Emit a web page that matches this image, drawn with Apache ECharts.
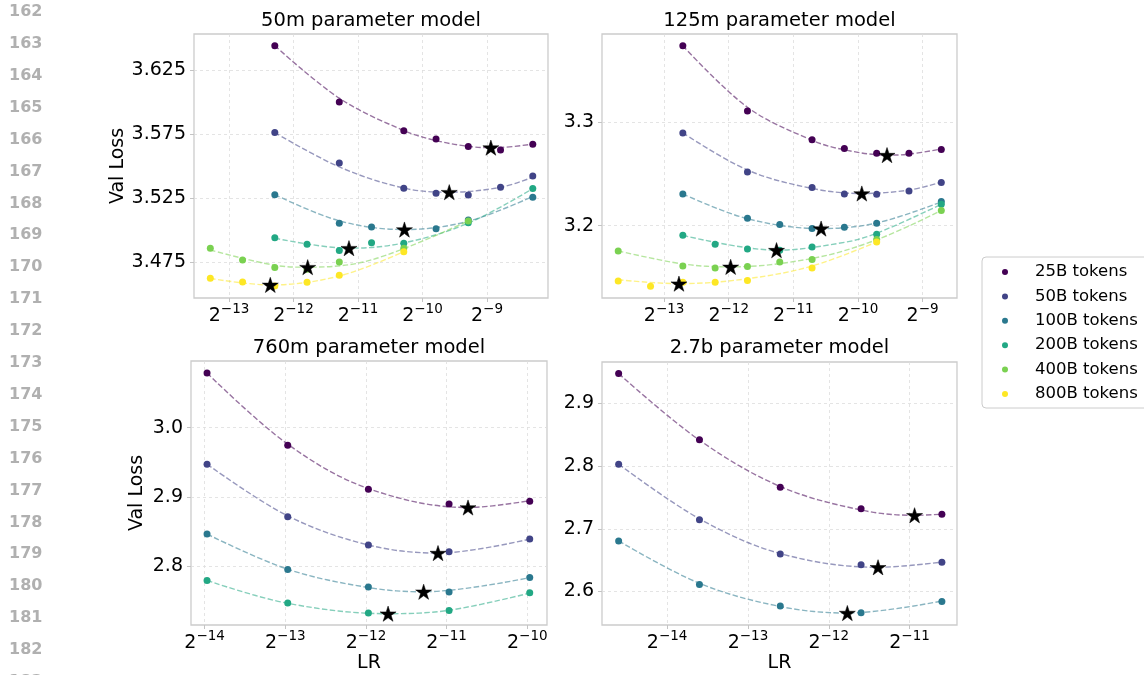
<!DOCTYPE html>
<html>
<head>
<meta charset="utf-8">
<script src="https://cdn.jsdelivr.net/npm/echarts@6/dist/echarts.min.js"></script>
<style>
  html, body { margin: 0; padding: 0; background: #ffffff; }
  #chart { width: 1144px; height: 675px; }
</style>
</head>
<body>
<div id="chart"></div>
<script>
// ---------- data ----------
const tokenNames = ['25B tokens', '50B tokens', '100B tokens', '200B tokens', '400B tokens', '800B tokens'];
const panelTitles = ['50m parameter model', '125m parameter model', '760m parameter model', '2.7b parameter model'];

// x values are log2(learning rate); y values are validation loss

// 50m
const lr50m = [
  [-12.29, -11.29, -10.29, -9.79, -9.29, -8.79, -8.29],
  [-12.29, -11.29, -10.29, -9.79, -9.29, -8.79, -8.29],
  [-12.29, -11.29, -10.79, -9.79, -9.29, -8.29],
  [-12.29, -11.79, -11.29, -10.79, -10.29, -9.29, -8.29],
  [-13.29, -12.79, -12.29, -11.79, -11.29, -10.29, -9.29],
  [-13.29, -12.79, -12.29, -11.79, -11.29, -10.29]
];
const loss50m = [
  [3.6439, 3.6000, 3.5777, 3.5713, 3.5653, 3.5627, 3.5671],
  [3.5762, 3.5526, 3.5329, 3.5290, 3.5277, 3.5337, 3.5424],
  [3.5279, 3.5056, 3.5027, 3.5014, 3.5082, 3.5259],
  [3.4944, 3.4893, 3.4843, 3.4905, 3.4900, 3.5061, 3.5326],
  [3.4861, 3.4770, 3.4711, 3.4698, 3.4755, 3.4861, 3.5074],
  [3.4628, 3.4599, 3.4568, 3.4597, 3.4651, 3.4835]
];
const fit50m = [
  [[-12.29, 3.6439], [-11.29, 3.6030], [-10.29, 3.5778], [-9.79, 3.5700], [-9.29, 3.5655], [-8.94, 3.5645], [-8.79, 3.5646], [-8.29, 3.5673]],
  [[-12.29, 3.5762], [-11.29, 3.5495], [-10.29, 3.5330], [-9.585, 3.5298], [-8.79, 3.5336], [-8.29, 3.5415]],
  [[-12.29, 3.5279], [-11.29, 3.5075], [-10.28, 3.5007], [-9.29, 3.5072], [-8.29, 3.5265]],
  [[-12.29, 3.4940], [-11.14, 3.4862], [-10.29, 3.4903], [-9.29, 3.5057], [-8.29, 3.5326]],
  [[-13.29, 3.4848], [-12.29, 3.4729], [-11.78, 3.4714], [-10.79, 3.4771], [-9.29, 3.5074]],
  [[-13.29, 3.4626], [-12.36, 3.4576], [-11.29, 3.4645], [-10.29, 3.4835]]
];
const best50m = [[-8.94, 3.5645], [-9.585, 3.5298], [-10.28, 3.5007], [-11.14, 3.4862], [-11.78, 3.4714], [-12.36, 3.4576]];

// 125m
const lr125m = [
  [-12.71, -11.71, -10.71, -10.21, -9.71, -9.21, -8.71],
  [-12.71, -11.71, -10.71, -10.21, -9.71, -9.21, -8.71],
  [-12.71, -11.71, -11.21, -10.71, -10.21, -9.71, -8.71],
  [-12.71, -12.21, -11.71, -11.21, -10.71, -9.71, -8.71],
  [-13.71, -12.71, -12.21, -11.71, -11.21, -10.71, -9.71, -8.71],
  [-13.71, -13.21, -12.71, -12.21, -11.71, -10.71, -9.71]
];
const loss125m = [
  [3.3733, 3.3103, 3.2826, 3.2743, 3.2698, 3.2698, 3.2733],
  [3.2893, 3.2517, 3.2366, 3.2305, 3.2302, 3.2334, 3.2415],
  [3.2305, 3.2070, 3.2010, 3.1971, 3.1984, 3.2022, 3.2231],
  [3.1906, 3.1820, 3.1774, 3.1762, 3.1794, 3.1916, 3.2205],
  [3.1755, 3.1610, 3.1591, 3.1605, 3.1649, 3.1672, 3.1865, 3.2145],
  [3.1466, 3.1415, 3.1453, 3.1453, 3.1470, 3.1591, 3.1842]
];
const fit125m = [
  [[-12.71, 3.3733], [-11.71, 3.3140], [-10.71, 3.2822], [-10.21, 3.2730], [-9.55, 3.2679], [-9.21, 3.2688], [-8.71, 3.2738]],
  [[-12.71, 3.2893], [-11.71, 3.2535], [-10.71, 3.2358], [-9.94, 3.2309], [-9.21, 3.2342], [-8.71, 3.2418]],
  [[-12.71, 3.2305], [-11.71, 3.2066], [-10.57, 3.1971], [-9.71, 3.2025], [-8.71, 3.2228]],
  [[-12.71, 3.1906], [-11.26, 3.1763], [-10.21, 3.1838], [-9.71, 3.1926], [-8.71, 3.2205]],
  [[-13.71, 3.1756], [-12.71, 3.1630], [-11.97, 3.1602], [-10.71, 3.1683], [-9.71, 3.1863], [-8.71, 3.2145]],
  [[-13.71, 3.1478], [-12.77, 3.1440], [-11.71, 3.1488], [-10.71, 3.1610], [-9.71, 3.1842]]
];
const best125m = [[-9.55, 3.2679], [-9.94, 3.2309], [-10.57, 3.1971], [-11.26, 3.1763], [-11.97, 3.1602], [-12.77, 3.1440]];

// 760m
const lr760m = [
  [-13.97, -12.97, -11.97, -10.97, -9.97],
  [-13.97, -12.97, -11.97, -10.97, -9.97],
  [-13.97, -12.97, -11.97, -10.97, -9.97],
  [-13.97, -12.97, -11.97, -10.97, -9.97]
];
const loss760m = [
  [3.0789, 2.9746, 2.9111, 2.8895, 2.8938],
  [2.9472, 2.8711, 2.8303, 2.8206, 2.8390],
  [2.8462, 2.7951, 2.7697, 2.7625, 2.7835],
  [2.7792, 2.7466, 2.7322, 2.7359, 2.7615]
];
const fit760m = [
  [[-13.97, 3.0789], [-12.97, 2.9760], [-11.97, 2.9120], [-10.735, 2.8846], [-9.97, 2.8945]],
  [[-13.97, 2.9472], [-12.97, 2.8725], [-11.97, 2.8305], [-11.107, 2.8188], [-9.97, 2.8390]],
  [[-13.97, 2.8462], [-12.97, 2.7955], [-11.97, 2.7690], [-11.285, 2.7629], [-9.97, 2.7833]],
  [[-13.97, 2.7792], [-12.97, 2.7462], [-11.726, 2.7312], [-10.97, 2.7362], [-9.97, 2.7610]]
];
const best760m = [[-10.735, 2.8846], [-11.107, 2.8188], [-11.285, 2.7629], [-11.726, 2.7312]];

// 2.7b
const lr2p7b = [
  [-14.6, -13.6, -12.6, -11.6, -10.6],
  [-14.6, -13.6, -12.6, -11.6, -10.6],
  [-14.6, -13.6, -12.6, -11.6, -10.6]
];
const loss2p7b = [
  [2.9478, 2.8420, 2.7662, 2.7322, 2.7232],
  [2.8029, 2.7146, 2.6600, 2.6425, 2.6468],
  [2.6807, 2.6111, 2.5768, 2.5661, 2.5841]
];
const fit2p7b = [
  [[-14.6, 2.9478], [-13.6, 2.8415], [-12.6, 2.7675], [-11.6, 2.7300], [-10.938, 2.7216], [-10.6, 2.7233]],
  [[-14.6, 2.8032], [-13.6, 2.7160], [-12.6, 2.6605], [-11.39, 2.6386], [-10.6, 2.6470]],
  [[-14.6, 2.6807], [-13.6, 2.6130], [-12.6, 2.5760], [-11.77, 2.5656], [-10.6, 2.5848]]
];
const best2p7b = [[-10.938, 2.7216], [-11.39, 2.6386], [-11.77, 2.5656]];

// axis ticks (x ticks are powers of two, given by exponent)
const xTicks = [[-13, -12, -11, -10, -9], [-13, -12, -11, -10, -9], [-14, -13, -12, -11, -10], [-14, -13, -12, -11]];
const yTicks = [[3.475, 3.525, 3.575, 3.625], [3.2, 3.3], [2.8, 2.9, 3.0], [2.6, 2.7, 2.8, 2.9]];

const lineNumbers = [162, 163, 164, 165, 166, 167, 168, 169, 170, 171, 172, 173, 174, 175, 176, 177, 178, 179, 180, 181, 182, 183];

// ---------- styling / layout ----------
const palette = ['#440154', '#414487', '#2a788e', '#22a884', '#7ad151', '#fde725'];
const FONT = 'DejaVu Sans';

const panels = [
  { lr: lr50m, loss: loss50m, fit: fit50m, best: best50m,
    grid: { left: 194, top: 34, width: 354, height: 264 }, x: [-13.543, -8.054], y: [3.4474, 3.653], dec: 3,
    yName: 'Val Loss', yGap: 62, xName: '', titleX: 371, titleY: 21 },
  { lr: lr125m, loss: loss125m, fit: fit125m, best: best125m,
    grid: { left: 602, top: 34, width: 355, height: 264 }, x: [-13.961, -8.467], y: [3.1302, 3.3846], dec: 1,
    yName: '', yGap: 0, xName: '', titleX: 779.5, titleY: 21 },
  { lr: lr760m, loss: loss760m, fit: fit760m, best: best760m,
    grid: { left: 191, top: 361, width: 356, height: 264 }, x: [-14.169, -9.756], y: [2.7149, 3.0962], dec: 1,
    yName: 'Val Loss', yGap: 44, xName: 'LR', titleX: 369, titleY: 348.3 },
  { lr: lr2p7b, loss: loss2p7b, fit: fit2p7b, best: best2p7b,
    grid: { left: 602, top: 362, width: 355, height: 263 }, x: [-14.806, -10.413], y: [2.5465, 2.9662], dec: 1,
    yName: '', yGap: 0, xName: 'LR', titleX: 779.5, titleY: 348.3 }
];

// five-pointed star marker
function starPath() {
  let d = '';
  for (let i = 0; i < 10; i++) {
    const r = i % 2 ? 0.382 : 1;
    const a = -Math.PI / 2 + i * Math.PI / 5;
    d += (i ? 'L' : 'M') + (r * Math.cos(a)).toFixed(4) + ' ' + (r * Math.sin(a)).toFixed(4) + ' ';
  }
  return 'path://' + d + 'Z';
}
const STAR = starPath();

const tickColor = '#c4c4c4';
const gridLine = { show: true, lineStyle: { color: '#dddddd', width: 0.8, type: [3, 3] } };

const grids = [], xAxes = [], yAxes = [];
const dotSeries = [], fitSeries = [], starSeries = [];

panels.forEach((p, i) => {
  grids.push(Object.assign({ show: true, borderColor: '#cccccc', borderWidth: 1.3, backgroundColor: 'transparent' }, p.grid));

  xAxes.push({
    type: 'value', gridIndex: i, min: p.x[0], max: p.x[1],
    axisLine: { show: false },
    axisTick: { show: true, length: 4, lineStyle: { color: tickColor, width: 1 }, customValues: xTicks[i] },
    axisLabel: {
      customValues: xTicks[i], margin: 4,
      formatter: v => '{b|2}{s|\u2212' + Math.abs(Math.round(v)) + '}',
      rich: {
        b: { fontSize: 19, fontFamily: FONT, color: '#000', lineHeight: 24, verticalAlign: 'bottom' },
        s: { fontSize: 13.5, fontFamily: FONT, color: '#000', lineHeight: 14, verticalAlign: 'top' }
      }
    },
    splitLine: gridLine,
    name: p.xName, nameLocation: 'middle', nameGap: 29,
    nameTextStyle: { fontSize: 19, fontFamily: FONT, color: '#000' }
  });

  yAxes.push({
    type: 'value', gridIndex: i, min: p.y[0], max: p.y[1],
    axisLine: { show: false },
    axisTick: { show: true, length: 4, lineStyle: { color: tickColor, width: 1 }, customValues: yTicks[i] },
    axisLabel: {
      customValues: yTicks[i], margin: 8,
      formatter: v => v.toFixed(p.dec),
      fontSize: 19, fontFamily: FONT, color: '#000'
    },
    splitLine: gridLine,
    name: p.yName, nameLocation: 'middle', nameGap: p.yGap,
    nameTextStyle: { fontSize: 19, fontFamily: FONT, color: '#000' }
  });

  p.lr.forEach((xs, t) => {
    dotSeries.push({
      type: 'scatter', name: tokenNames[t], xAxisIndex: i, yAxisIndex: i,
      data: xs.map((x, k) => [x, p.loss[t][k]]),
      symbol: 'circle', symbolSize: 7,
      itemStyle: { color: palette[t], opacity: 1 },
      z: 3, silent: true
    });
    fitSeries.push({
      type: 'line', name: tokenNames[t] + ' fit', xAxisIndex: i, yAxisIndex: i,
      data: p.fit[t], smooth: 0.35, showSymbol: false,
      lineStyle: { color: palette[t], width: 1.4, type: [5.5, 2.4], opacity: 0.55 },
      z: 2, silent: true
    });
  });

  starSeries.push({
    type: 'scatter', name: 'best lr', xAxisIndex: i, yAxisIndex: i,
    data: p.best, symbol: STAR, symbolSize: 16, symbolKeepAspect: true,
    itemStyle: { color: '#000000', borderColor: '#000000', borderWidth: 0.5, opacity: 1 },
    z: 5, silent: true
  });
});

const graphics = [];
panels.forEach((p, i) => {
  graphics.push({
    type: 'text', x: p.titleX, y: p.titleY, silent: true,
    style: { text: panelTitles[i], fill: '#000', fontSize: 19.5, fontFamily: FONT,
             align: 'center', verticalAlign: 'middle', textAlign: 'center', textVerticalAlign: 'middle' }
  });
});
lineNumbers.forEach((n, k) => {
  graphics.push({
    type: 'text', x: 9, y: 12 + k * 31.9, silent: true,
    style: { text: String(n), fill: '#b0b0b0', fontSize: 16, fontWeight: 'bold', fontFamily: FONT,
             align: 'left', verticalAlign: 'middle', textAlign: 'left', textVerticalAlign: 'middle' }
  });
});

const chart = echarts.init(document.getElementById('chart'), null, { renderer: 'canvas' });
chart.setOption({
  animation: false,
  backgroundColor: '#ffffff',
  grid: grids,
  xAxis: xAxes,
  yAxis: yAxes,
  legend: {
    data: tokenNames.map(n => ({ name: n, icon: 'circle' })),
    orient: 'vertical', left: 982, top: 257,
    padding: [5, 60, 4, 20],
    itemWidth: 6, itemHeight: 6, itemGap: 4.4,
    selectedMode: false,
    backgroundColor: '#ffffff', borderColor: '#cccccc', borderWidth: 1, borderRadius: 4,
    textStyle: { fontSize: 16.5, fontFamily: FONT, color: '#000', lineHeight: 20, padding: [0, 0, 0, 22] }
  },
  graphic: graphics,
  series: dotSeries.concat(fitSeries, starSeries)
});
</script>
</body>
</html>
